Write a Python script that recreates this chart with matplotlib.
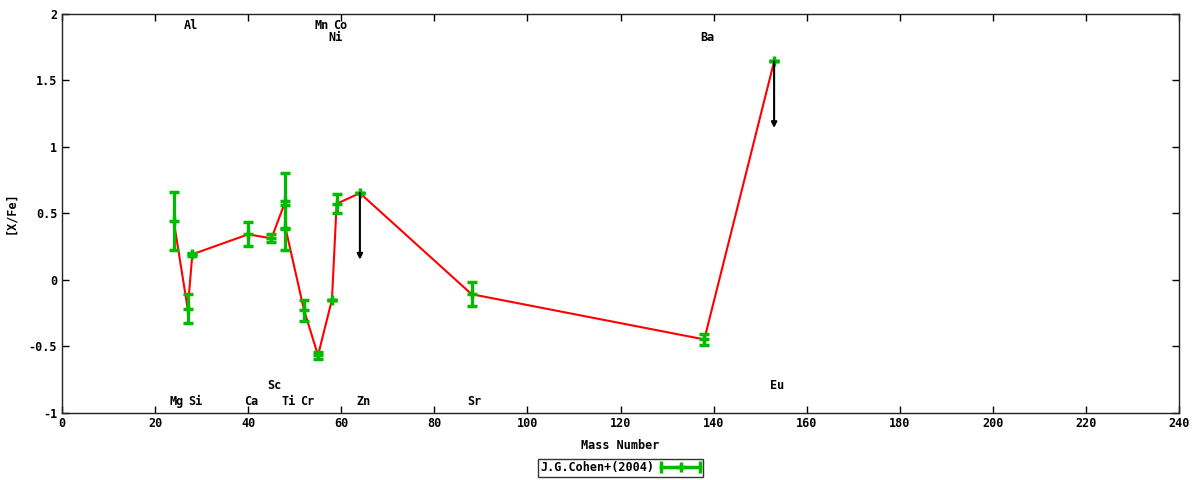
import matplotlib
matplotlib.use("Agg")
import matplotlib.pyplot as plt
from matplotlib.lines import Line2D
from matplotlib.legend_handler import HandlerLine2D, HandlerTuple
import numpy as np

# Data: J.G.Cohen+(2004), [X/Fe] vs mass number
mass = [24, 27, 28, 40, 45, 48, 48, 52, 55, 58, 59, 64, 88, 138, 153]
xfe = [0.44, -0.22, 0.19, 0.34, 0.31, 0.59, 0.39, -0.23, -0.57, -0.15, 0.57, 0.65, -0.11, -0.45, 1.64]
err = [0.22, 0.11, 0.01, 0.09, 0.03, 0.21, 0.17, 0.08, 0.025, 0.0, 0.07, 0.0, 0.09, 0.04, 0.0]
# upper limits (arrows)
lim_mass = [64, 153]
lim_val = [0.65, 1.64]
lim_len = 0.5

# element labels
el_names = ['Mg', 'Al', 'Si', 'Ca', 'Sc', 'Ti', 'Cr', 'Mn', 'Co', 'Ni', 'Zn', 'Sr', 'Ba', 'Eu']
el_mass = [24, 27, 28, 40, 45, 48, 52, 55, 59, 58, 64, 88, 138, 153]
el_row = [-0.92, 1.91, -0.92, -0.92, -0.80, -0.92, -0.92, 1.91, 1.91, 1.82, -0.92, -0.92, 1.82, -0.80]

plt.rcParams['font.family'] = 'DejaVu Sans Mono'
plt.rcParams['font.weight'] = 'bold'
plt.rcParams['font.size'] = 8.5

fig = plt.figure(figsize=(12, 4.8), dpi=100)
ax = fig.add_axes([0.0517, 0.1405, 0.9308, 0.8312])

green = '#00bb00'
ax.plot(mass, xfe, color='red', lw=1.5, zorder=2)
ax.errorbar(mass, xfe, yerr=err, fmt='+', color=green, ecolor=green,
            elinewidth=2.3, capsize=3.5, capthick=2.3, ms=7, mew=2.5, zorder=3)

for m, v in zip(lim_mass, lim_val):
    ax.annotate('', xy=(m, v - lim_len), xytext=(m, v),
                arrowprops=dict(arrowstyle='-|>', color='black', lw=1.5,
                                mutation_scale=8, shrinkA=0, shrinkB=0),
                zorder=4)

for name, m, row in zip(el_names, el_mass, el_row):
    ax.text(m + 0.7, row, name, ha='center', va='center', fontweight='bold')

ax.set_xlim(0, 240)
ax.set_ylim(-1, 2)
ax.set_xticks(np.arange(0, 241, 20))
ax.set_yticks([-1, -0.5, 0, 0.5, 1, 1.5, 2])
ax.set_yticklabels(['-1', '-0.5', '0', '0.5', '1', '1.5', '2'])
ax.tick_params(direction='in', top=True, right=True, length=5, width=1)
for s in ax.spines.values():
    s.set_linewidth(1)
    s.set_color('#222222')

ax.set_xlabel('Mass Number', fontweight='bold', labelpad=6)
ax.set_ylabel('[X/Fe]', fontweight='bold', labelpad=8)

# legend sample: horizontal bar with end caps and a plus in the middle
caps = Line2D([], [], color=green, lw=2.5, marker='|', ms=8, mew=2.5)
plus = Line2D([], [], color=green, lw=0, marker='+', ms=7, mew=2.5)
leg = fig.legend(handles=[(caps, plus)], labels=['J.G.Cohen+(2004)'],
                 handler_map={caps: HandlerLine2D(numpoints=2, marker_pad=0.0),
                              plus: HandlerLine2D(numpoints=1),
                              tuple: HandlerTuple(ndivide=1)},
                 loc='center', bbox_to_anchor=(0.517, 0.025),
                 frameon=True, fancybox=False, edgecolor='black',
                 markerfirst=False, handlelength=3.3, borderpad=0.2,
                 handletextpad=0.6)
leg.get_frame().set_linewidth(1)

fig.savefig('out.png', dpi=100)
